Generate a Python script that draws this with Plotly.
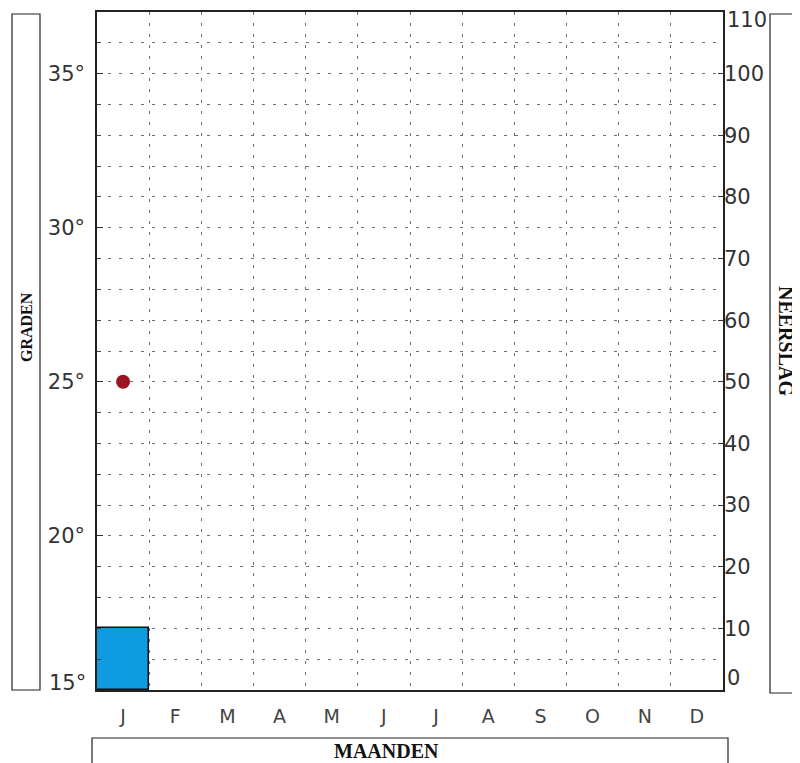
import plotly.graph_objects as go

months = ["Jan", "Feb", "Mrt", "Apr", "Mei", "Jun", "Jul", "Aug", "Sep", "Okt", "Nov", "Dec"]
month_letters = ["J", "F", "M", "A", "M", "J", "J", "A", "S", "O", "N", "D"]
rain_months = ["Jan"]
rain_mm = [10]
temp_months = ["Jan"]
temp_c = [25]
temp_ticks = [15, 20, 25, 30, 35]
temp_ticktext = ["15°", "20°", "25°", "30°", "35°"]
rain_ticks = [0, 10, 20, 30, 40, 50, 60, 70, 80, 90, 100, 110]

W, H = 800, 763
OFF = 8  # page body margin offset
L, R, T, B = 97 - OFF, 723 - OFF, 12 - OFF, 690 - OFF

fig = go.Figure()
fig.add_trace(go.Bar(x=rain_months, y=rain_mm, yaxis="y2",
                     marker=dict(color="#0f9be0", line=dict(color="#111", width=1.5)),
                     width=1.0, showlegend=False))
fig.add_trace(go.Scatter(x=temp_months, y=temp_c, mode="markers",
                         marker=dict(color="#9a1424", size=14, line=dict(width=0)),
                         showlegend=False))

def px_x(px):
    return (px - OFF - L) / (R - L)

def px_y(py):
    return (B - (py - OFF)) / (B - T)

grid_style = dict(gridcolor="#707070", gridwidth=1, griddash="3px,8px")
tick_font = dict(size=21, color="#333", family="DejaVu Sans")

annotations = [
    dict(text="<b>GRADEN</b>", xref="paper", yref="paper", x=px_x(27), y=px_y(327), showarrow=False,
         xanchor="center", yanchor="middle",
         textangle=-90, font=dict(family="Liberation Serif", size=16, color="#111")),
    dict(text="<b>NEERSLAG</b>", xref="paper", yref="paper", x=px_x(786), y=px_y(341), showarrow=False,
         xanchor="center", yanchor="middle",
         textangle=90, font=dict(family="Liberation Serif", size=20, color="#111")),
    dict(text="<b>MAANDEN</b>", xref="paper", yref="paper", x=px_x(386), y=px_y(751), showarrow=False,
         xanchor="center", yanchor="middle",
         font=dict(family="Liberation Serif", size=20, color="#111")),
]
# end labels of the axes sit just inside the frame, as in the reference
for val, shift in ((rain_ticks[0], 12), (rain_ticks[-1], -8)):
    annotations.append(dict(text=str(val), xref="paper", yref="y2", x=1, y=val, xanchor="left",
                            yanchor="middle", yshift=shift, xshift=2, showarrow=False, font=tick_font))
annotations.append(dict(text=temp_ticktext[0], xref="paper", yref="y", x=0, y=temp_ticks[0],
                        xanchor="right", yanchor="middle", yshift=7, xshift=-9, showarrow=False,
                        font=tick_font))

fig.update_layout(
    width=W, height=H,
    margin=dict(l=L, r=W - R, t=T, b=H - B),
    paper_bgcolor="white", plot_bgcolor="white",
    bargap=0,
    font=dict(family="DejaVu Sans", color="#333"),
    xaxis=dict(type="category", categoryorder="array", categoryarray=months,
               range=[-0.5, 11.5], tickmode="array", tickvals=months, ticktext=month_letters,
               tickson="boundaries", ticks="", showgrid=True, **grid_style, automargin=False,
               showline=True, linecolor="#222", linewidth=1.5, mirror=True,
               tickfont=dict(size=19, color="#444", family="DejaVu Sans"), ticklabelstandoff=8),
    yaxis=dict(range=[15, 37], tickmode="array", tickvals=temp_ticks[1:], ticktext=temp_ticktext[1:],
               showgrid=True, **grid_style, zeroline=False, automargin=False,
               minor=dict(dtick=1, tick0=15, showgrid=True, gridcolor="#707070", griddash="3px,8px",
                          ticks="inside", ticklen=4, tickcolor="#444"),
               ticks="inside", ticklen=6, tickcolor="#333",
               showline=True, linecolor="#222", linewidth=1.5, mirror=True,
               tickfont=tick_font, ticklabelstandoff=6),
    yaxis2=dict(range=[0, 110], tickmode="array", tickvals=rain_ticks[1:-1], overlaying="y", side="right",
                showgrid=False, zeroline=False, ticks="inside", ticklen=5, tickcolor="#333",
                automargin=False, tickfont=tick_font),
    shapes=[
        dict(type="rect", xref="paper", yref="paper", x0=px_x(12), x1=px_x(40), y0=px_y(690), y1=px_y(14),
             line=dict(color="#222", width=1.2), fillcolor="rgba(0,0,0,0)"),
        dict(type="rect", xref="paper", yref="paper", x0=px_x(770), x1=px_x(815), y0=px_y(693), y1=px_y(14),
             line=dict(color="#222", width=1.2), fillcolor="rgba(0,0,0,0)"),
        dict(type="rect", xref="paper", yref="paper", x0=px_x(92), x1=px_x(728), y0=px_y(780), y1=px_y(738),
             line=dict(color="#222", width=1.2), fillcolor="rgba(0,0,0,0)"),
    ],
    annotations=annotations,
)

fig.write_html("out.html")
